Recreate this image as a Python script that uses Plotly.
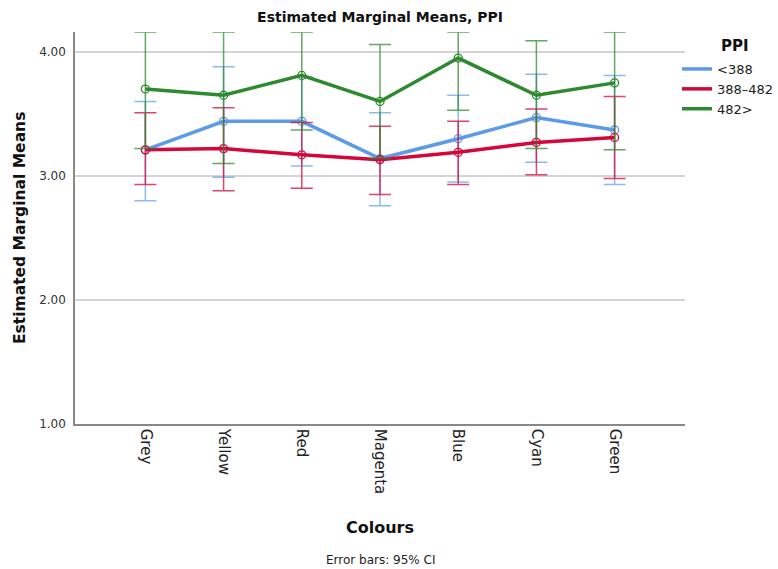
import plotly.graph_objects as go

categories = ["Grey", "Yellow", "Red", "Magenta", "Blue", "Cyan", "Green"]

lt388_mean = [3.21, 3.44, 3.44, 3.14, 3.30, 3.47, 3.37]
lt388_upper = [3.60, 3.88, 3.80, 3.51, 3.65, 3.82, 3.81]
lt388_lower = [2.80, 2.99, 3.08, 2.76, 2.95, 3.11, 2.93]

mid_mean = [3.21, 3.22, 3.17, 3.13, 3.19, 3.27, 3.31]
mid_upper = [3.51, 3.55, 3.43, 3.40, 3.44, 3.54, 3.64]
mid_lower = [2.93, 2.88, 2.90, 2.85, 2.93, 3.01, 2.98]

gt482_mean = [3.70, 3.65, 3.81, 3.60, 3.95, 3.65, 3.75]
gt482_upper = [4.16, 4.16, 4.16, 4.06, 4.16, 4.09, 4.16]
gt482_lower = [3.22, 3.10, 3.37, 3.14, 3.53, 3.22, 3.21]

series_names = ["<388", "388\u2013482", "482>"]
y_ticks = [1.0, 2.0, 3.0, 4.0]

series = [
    (series_names[0], lt388_mean, lt388_upper, lt388_lower, "rgb(92,155,232)", "rgba(92,155,232,0.7)"),
    (series_names[1], mid_mean, mid_upper, mid_lower, "rgb(213,6,58)", "rgba(213,6,58,0.75)"),
    (series_names[2], gt482_mean, gt482_upper, gt482_lower, "rgb(46,138,46)", "rgba(46,138,46,0.75)"),
]

FONT = "DejaVu Sans"
L, R, T, B = 75, 93, 32, 145
W, H = 778, 569
PW, PH = W - L - R, H - T - B

def px_x(x):
    return (x - L) / PW

def px_y(y):
    return (H - B - y) / PH

fig = go.Figure()
for name, mean, up, lo, col, ecol in series:
    fig.add_trace(go.Scatter(
        x=categories, y=mean, mode="lines+markers", name=name, showlegend=False,
        line=dict(color=col, width=3.5),
        marker=dict(symbol="circle-open", size=8, color=col, line=dict(width=1.3, color=col)),
        error_y=dict(type="data", symmetric=False,
                     array=[u - m for u, m in zip(up, mean)],
                     arrayminus=[m - l for m, l in zip(mean, lo)],
                     color=ecol, thickness=1.5, width=11),
        cliponaxis=False,
    ))
for name, mean, up, lo, col, ecol in series:
    fig.add_trace(go.Scatter(
        x=[None], y=[None], mode="lines", name=name, showlegend=True,
        line=dict(color=col, width=3.5),
    ))

fig.update_layout(
    width=W, height=H,
    margin=dict(l=L, r=R, t=T, b=B, autoexpand=False),
    paper_bgcolor="white", plot_bgcolor="white",
    font=dict(family=FONT, color="#222222"),
    title=dict(text="<b>Estimated Marginal Means, PPI</b>", x=0.5, xref="paper",
               y=1 - 17 / H, yanchor="middle", font=dict(size=14, color="#111111")),
    xaxis=dict(
        type="category", range=[-0.9, 6.9], showgrid=False,
        showline=True, linecolor="#888888", linewidth=1.5,
        ticks="", tickangle=90, tickfont=dict(size=15, color="#222222"),
        zeroline=False,
    ),
    yaxis=dict(
        range=[1.0, 4.16], tickvals=y_ticks, ticktext=[f"{v:.2f}" for v in y_ticks],
        showgrid=True, gridcolor="#d4d4d4", gridwidth=1.5,
        showline=True, linecolor="#888888", linewidth=1.5,
        ticks="", tickfont=dict(size=12, color="#333333"), ticklabelstandoff=5,
        zeroline=False,
    ),
    legend=dict(
        x=px_x(677), xanchor="left", y=px_y(54), yanchor="top",
        font=dict(size=13, color="#222222"), bgcolor="rgba(0,0,0,0)",
        tracegroupgap=0, itemwidth=30,
    ),
    annotations=[
        dict(text="<b>PPI</b>", xref="paper", yref="paper", x=px_x(735), y=px_y(46),
             xanchor="center", yanchor="middle", showarrow=False,
             font=dict(size=15, color="#111111")),
        dict(text="<b>Colours</b>", xref="paper", yref="paper", x=0.5,
             y=px_y(527), xanchor="center", yanchor="middle",
             showarrow=False, font=dict(size=16, color="#111111")),
        dict(text="<b>Estimated Marginal Means</b>", xref="paper", yref="paper",
             x=px_x(20), y=0.5, xanchor="center", yanchor="middle",
             textangle=-90, showarrow=False, font=dict(size=15.5, color="#111111")),
        dict(text="Error bars: 95% CI", xref="paper", yref="paper",
             x=px_x(380), y=px_y(560), xanchor="center", yanchor="middle",
             showarrow=False, font=dict(size=12, color="#222222")),
    ],
)

fig.write_html("out.html", config={"displayModeBar": False},
               post_script="document.body.style.margin='0';")
